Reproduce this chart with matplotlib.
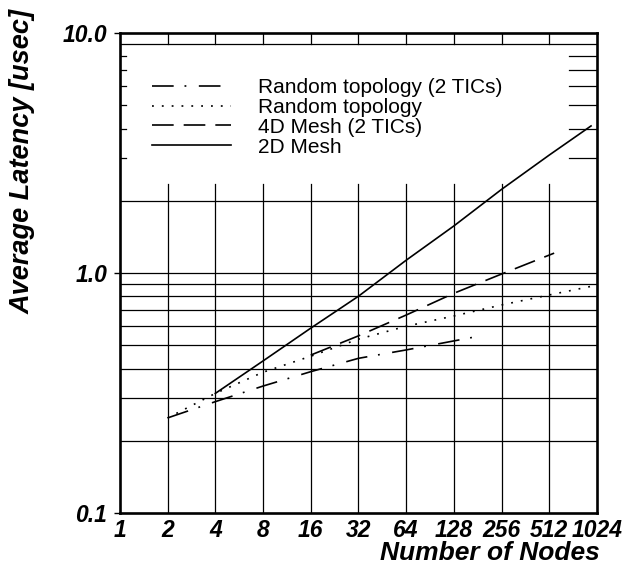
import matplotlib
matplotlib.use("Agg")
import matplotlib.pyplot as plt
from matplotlib.ticker import NullLocator

plt.rcParams['font.family'] = ['Liberation Sans', 'DejaVu Sans']

# values (nodes, latency in usec)
nodes_rand2 = [2, 4, 8, 16, 32, 64, 170]
lat_rand2 = [0.249, 0.291, 0.338, 0.388, 0.441, 0.478, 0.54]

nodes_rand = [2, 4, 8, 16, 32, 64, 128, 256, 512, 1024]
lat_rand = [0.249, 0.315, 0.386, 0.45, 0.53, 0.60, 0.662, 0.736, 0.81, 0.89]

nodes_4d = [16, 32, 64, 128, 256, 550]
lat_4d = [0.455, 0.547, 0.668, 0.823, 0.99, 1.21]

nodes_2d = [4, 8, 16, 32, 64, 128, 256, 512, 940]
lat_2d = [0.315, 0.43, 0.589, 0.80, 1.13, 1.57, 2.23, 3.10, 4.1]

labels = ["Random topology (2 TICs)", "Random topology",
          "4D Mesh (2 TICs)", "2D Mesh"]

x_ticks = [1, 2, 4, 8, 16, 32, 64, 128, 256, 512, 1024]
x_labels = [str(n) for n in x_ticks]
y_ticks = [0.1, 1.0, 10.0]
y_labels = ["0.1", "1.0", "10.0"]
grid_y = [0.2, 0.3, 0.4, 0.5, 0.6, 0.7, 0.8, 0.9, 1.0, 2.0, 9.0]
side_y = [3, 4, 5, 6, 7, 8]

fig = plt.figure(figsize=(6.31, 5.73), dpi=100)
ax = fig.add_axes([0.190, 0.1047, 0.756, 0.8377])
ax.set_xscale('log', base=2)
ax.set_yscale('log')
ax.set_xlim(1, 1024)
ax.set_ylim(0.1, 10)

# grid: horizontal lines full width, vertical lines only in the lower part
for v in grid_y:
    ax.axhline(v, color='black', lw=0.9, zorder=1)
for v in side_y:
    ax.axhline(v, xmin=0.0, xmax=0.012, color='black', lw=0.9, zorder=1)
    ax.axhline(v, xmin=0.942, xmax=1.0, color='black', lw=0.9, zorder=1)
for n in x_ticks[1:-1]:
    ax.axvline(n, ymax=0.685, color='black', lw=0.9, zorder=1)
    ax.axvline(n, ymin=0.977, ymax=1.0, color='black', lw=0.9, zorder=1)

lw = 1.2
ax.plot(nodes_rand2, lat_rand2, color='black', lw=lw, dashes=(13, 6.5, 1.1, 7.5), label=labels[0], zorder=3)
ax.plot(nodes_rand, lat_rand, color='black', lw=lw, dashes=(1.1, 4.8), label=labels[1], zorder=3)
ax.plot(nodes_4d, lat_4d, color='black', lw=lw, dashes=(13, 6), label=labels[2], zorder=3)
ax.plot(nodes_2d, lat_2d, color='black', lw=lw, label=labels[3], zorder=3)

ax.set_xticks(x_ticks)
ax.set_xticklabels(x_labels, fontsize=16.5, fontweight='bold', fontstyle='italic')
ax.set_yticks(y_ticks)
ax.set_yticklabels(y_labels, fontsize=16.5, fontweight='bold', fontstyle='italic')
ax.xaxis.set_minor_locator(NullLocator())
ax.yaxis.set_minor_locator(NullLocator())
ax.tick_params(axis='x', length=0, pad=4)
ax.tick_params(axis='y', length=4, width=1, direction='out', pad=5)

for s in ax.spines.values():
    s.set_linewidth(1.9)

ax.set_xlabel("Number of Nodes", fontsize=19, fontweight='bold', fontstyle='italic', loc='right')
ax.xaxis.set_label_coords(1.006, -0.058)
ax.xaxis.label.set_va('top')
ax.set_ylabel("Average Latency [usec]", fontsize=19.5, fontweight='bold', fontstyle='italic', loc='top')
ax.yaxis.set_label_coords(-0.176, 1.05)

leg = ax.legend(loc='upper left', bbox_to_anchor=(0.067, 0.906), frameon=False,
                fontsize=15, handlelength=3.8, handletextpad=1.3,
                labelspacing=0.04, borderpad=0, borderaxespad=0)

fig.savefig("out.png", dpi=100)
